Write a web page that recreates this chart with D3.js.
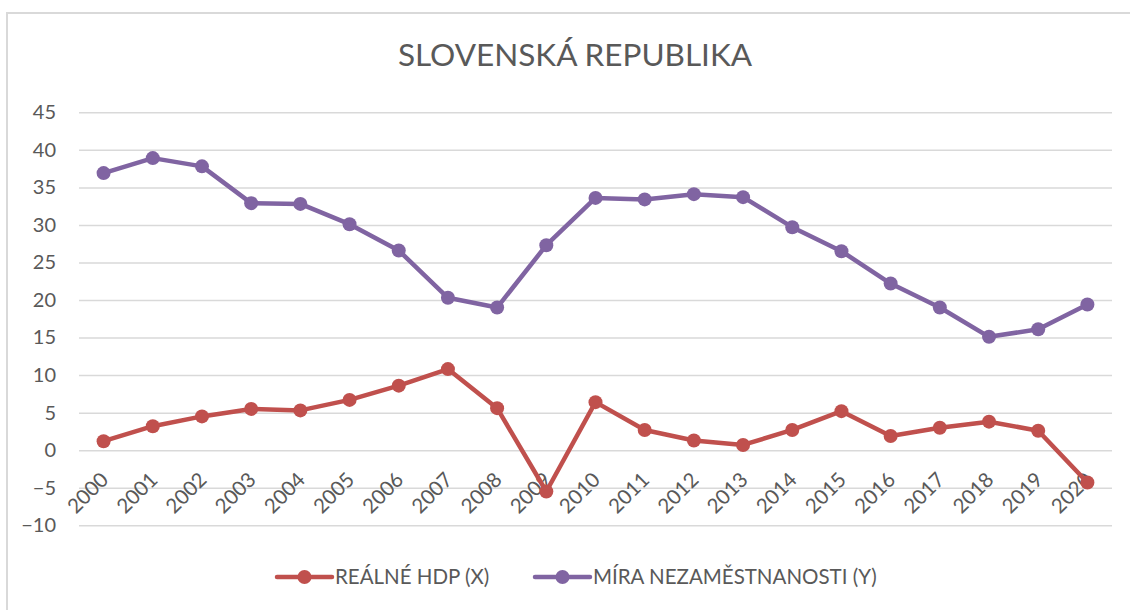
<!DOCTYPE html>
<html>
<head>
<meta charset="utf-8">
<script src="https://cdn.jsdelivr.net/npm/d3@7"></script>
<style>
  html, body { margin: 0; padding: 0; background: #fff; }
  svg { display: block; font-family: Lato, "Open Sans", sans-serif; }
</style>
</head>
<body>
<svg id="chart" width="1130" height="610"></svg>
<script>
const title = "SLOVENSKÁ REPUBLIKA";
const years = ["2000","2001","2002","2003","2004","2005","2006","2007","2008","2009","2010",
               "2011","2012","2013","2014","2015","2016","2017","2018","2019","2020"];
const realneHdp = [1.2, 3.2, 4.5, 5.5, 5.3, 6.7, 8.6, 10.8, 5.6, -5.5, 6.4,
                   2.7, 1.3, 0.7, 2.7, 5.2, 1.9, 3.0, 3.8, 2.6, -4.3];
const miraNezamestnanosti = [36.9, 38.9, 37.8, 32.9, 32.8, 30.1, 26.6, 20.3, 19.0, 27.3, 33.6,
                             33.4, 34.1, 33.7, 29.7, 26.5, 22.2, 19.0, 15.1, 16.1, 19.4];
const yTicks = [-10, -5, 0, 5, 10, 15, 20, 25, 30, 35, 40, 45];
const seriesNames = ["REÁLNÉ HDP (X)", "MÍRA NEZAMĚSTNANOSTI (Y)"];
const seriesColors = ["#C0504D", "#8064A2"];

const series = [
  { name: seriesNames[0], color: seriesColors[0], values: realneHdp },
  { name: seriesNames[1], color: seriesColors[1], values: miraNezamestnanosti }
];

const svg = d3.select("#chart");
const textColor = "#595959";
const gridColor = "#d9d9d9";

// chart border (extends beyond the visible area on the right/bottom)
svg.append("rect")
  .attr("x", 7).attr("y", 13).attr("width", 1200).attr("height", 700)
  .attr("fill", "none").attr("stroke", gridColor).attr("stroke-width", 2);

const plot = { left: 79, right: 1112, top: 112.3, bottom: 525.3 };

const x = d3.scaleBand().domain(years).range([plot.left, plot.right]).padding(0);
const cx = d => x(d) + x.bandwidth() / 2;
const y = d3.scaleLinear().domain([-10, 45]).range([plot.bottom, plot.top]);

// title
svg.append("text")
  .attr("x", 575).attr("y", 66)
  .attr("text-anchor", "middle")
  .attr("fill", textColor)
  .attr("font-size", 31.5)
  .text(title);

// gridlines
const yAxis = d3.axisLeft(y).tickValues(yTicks).tickSize(-(plot.right - plot.left)).tickPadding(23);
const gy = svg.append("g").attr("transform", `translate(${plot.left},0)`).call(yAxis);
gy.select(".domain").remove();
gy.selectAll(".tick line").attr("stroke", gridColor).attr("stroke-width", 1.5);
gy.selectAll(".tick text").attr("fill", textColor).attr("font-size", 20)
  .attr("font-family", "Lato, sans-serif");

// x labels
const gx = svg.append("g");
gx.selectAll("text").data(years).join("text")
  .attr("transform", d => `translate(${cx(d) + 6},481) rotate(-45)`)
  .attr("text-anchor", "end")
  .attr("fill", textColor)
  .attr("font-size", 20.5)
  .text(d => d);

// lines and markers
const line = d3.line().x((v, i) => cx(years[i])).y(v => y(v));
series.forEach(s => {
  const g = svg.append("g");
  g.append("path")
    .attr("d", line(s.values))
    .attr("fill", "none")
    .attr("stroke", s.color)
    .attr("stroke-width", 4.5)
    .attr("stroke-linejoin", "round");
  g.selectAll("circle").data(s.values).join("circle")
    .attr("cx", (v, i) => cx(years[i]))
    .attr("cy", v => y(v))
    .attr("r", 7)
    .attr("fill", s.color);
});

// legend
const legendItems = [
  { s: series[0], x0: 277 },
  { s: series[1], x0: 535 }
];
const ly = 577;
legendItems.forEach(it => {
  const g = svg.append("g");
  g.append("line").attr("x1", it.x0).attr("x2", it.x0 + 55).attr("y1", ly).attr("y2", ly)
    .attr("stroke", it.s.color).attr("stroke-width", 4.5).attr("stroke-linecap", "round");
  g.append("circle").attr("cx", it.x0 + 27.5).attr("cy", ly).attr("r", 7).attr("fill", it.s.color);
  g.append("text").attr("x", it.x0 + 58).attr("y", ly).attr("dy", "0.35em")
    .attr("fill", textColor).attr("font-size", 20.5).text(it.s.name);
});
</script>
</body>
</html>
